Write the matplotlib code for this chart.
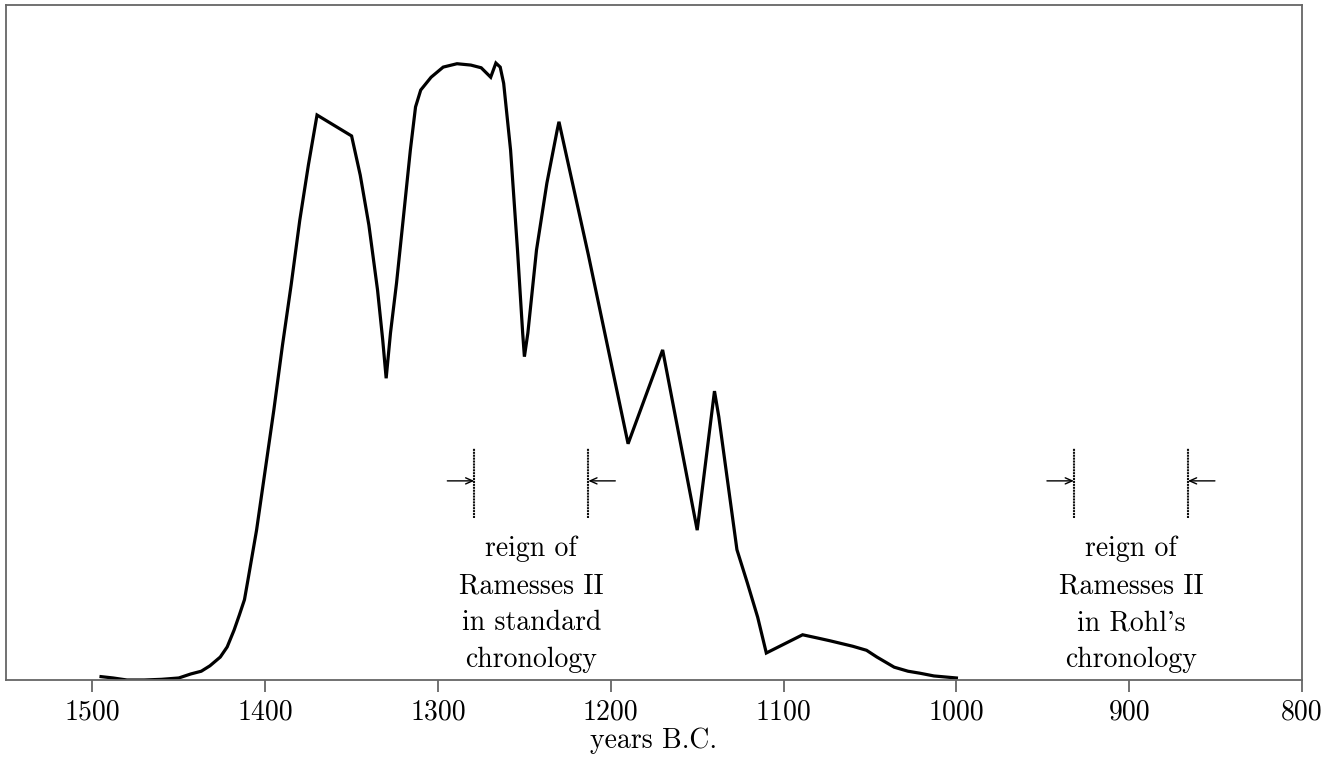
import matplotlib
matplotlib.use("Agg")
import matplotlib.pyplot as plt

# ---- data -------------------------------------------------------------
years = [1495, 1488, 1480, 1470, 1460, 1450, 1443, 1437, 1432, 1426, 1422,
         1418, 1415, 1412, 1410, 1405, 1400, 1395, 1390, 1385, 1380, 1375,
         1370, 1350, 1345, 1340, 1335, 1332, 1330, 1327.5, 1324, 1320, 1316,
         1313, 1310, 1304, 1297, 1289, 1281, 1275, 1269.5, 1266.5, 1264,
         1262, 1258, 1254, 1251, 1250, 1248, 1243, 1237, 1231, 1230, 1213,
         1190, 1170, 1150, 1140, 1137.5, 1127, 1121, 1115, 1110, 1089, 1080,
         1073, 1060, 1052, 1046, 1036, 1028, 1021, 1013, 1000]
density = [0.5, 0.3, 0.0, 0.0, 0.1, 0.3, 0.9, 1.3, 2.1, 3.4, 4.9,
           7.4, 9.6, 11.9, 14.8, 22.2, 31.1, 40.0, 49.6, 58.5, 68.1, 76.3,
           83.7, 80.6, 74.8, 67.4, 57.8, 50.4, 44.7, 51.4, 58.8, 68.6, 78.5,
           84.9, 87.4, 89.3, 90.8, 91.3, 91.1, 90.7, 89.3, 91.4, 90.8,
           88.4, 78.5, 63.7, 51.4, 47.9, 51.4, 63.7, 73.6, 81.5, 82.7, 63.0,
           35.0, 48.9, 22.2, 42.8, 39.0, 19.3, 14.4, 9.3, 4.0, 6.7, 6.2,
           5.8, 5.0, 4.4, 3.4, 1.9, 1.3, 1.0, 0.6, 0.3]

reign_standard = (1279, 1213)
reign_rohl = (932, 866)
label_standard = "reign of\nRamesses II\nin standard\nchronology"
label_rohl = "reign of\nRamesses II\nin Rohl's\nchronology"
xticks = [1500, 1400, 1300, 1200, 1100, 1000, 900, 800]
xlabel = "years B.C."

# ---- style ------------------------------------------------------------
plt.rcParams['font.family'] = ['cmr10', 'DejaVu Serif']
plt.rcParams['axes.formatter.use_mathtext'] = True
FS = 20
GRAY = '#666666'

fig = plt.figure(figsize=(13.36, 7.76), dpi=100)
ax = fig.add_axes([6 / 1336, 1 - 680 / 776, (1302 - 6) / 1336, (680 - 5) / 776])

ax.plot(years, density, color='black', lw=2.3, solid_joinstyle='miter')

ax.set_xlim(1550, 800)
ax.set_ylim(0, 100)
ax.set_xticks(xticks)
ax.set_xticklabels([str(t) for t in xticks], fontsize=FS)
ax.set_yticks([])
ax.tick_params(axis='x', direction='out', length=8.5, width=1.3,
               color=GRAY, pad=5)
for sp in ax.spines.values():
    sp.set_color(GRAY)
    sp.set_linewidth(1.3)

ax.set_xlabel(xlabel, fontsize=FS, labelpad=2)

bar_lo, bar_hi, arrow_y = 24.0, 34.4, 29.5
arrow_len = 15.6
text_y = 11.2

for (start, end), label in ((reign_standard, label_standard),
                            (reign_rohl, label_rohl)):
    for x in (start, end):
        ax.plot([x, x], [bar_lo, bar_hi], color='#111111', lw=1.5,
                linestyle=(0, (1, 0.4)))
    ax.annotate('', xy=(start, arrow_y), xytext=(start + arrow_len, arrow_y),
                arrowprops=dict(arrowstyle='->,head_length=0.5,head_width=0.22',
                                color='black', lw=1.0, shrinkA=0, shrinkB=0))
    ax.annotate('', xy=(end, arrow_y), xytext=(end - arrow_len, arrow_y),
                arrowprops=dict(arrowstyle='->,head_length=0.5,head_width=0.22',
                                color='black', lw=1.0, shrinkA=0, shrinkB=0))
    ax.text((start + end) / 2, text_y, label, ha='center', va='center',
            multialignment='center', fontsize=FS, linespacing=1.52)

fig.savefig('out.png', dpi=100)
